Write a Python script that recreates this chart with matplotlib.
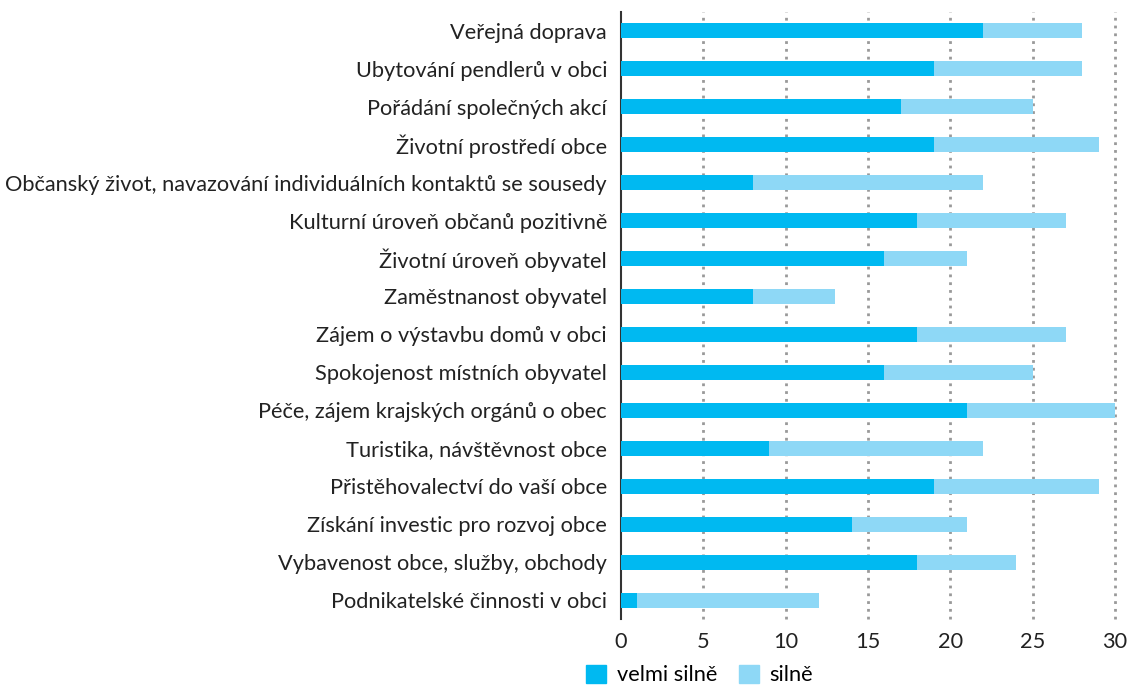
import matplotlib.pyplot as plt
from matplotlib.patches import Patch

plt.rcParams['font.family'] = ['Lato', 'DejaVu Sans']

kategorie = ['Veřejná doprava', 'Ubytování pendlerů v obci', 'Pořádání společných akcí',
             'Životní prostředí obce',
             'Občanský život, navazování individuálních kontaktů se sousedy',
             'Kulturní úroveň občanů pozitivně', 'Životní úroveň obyvatel',
             'Zaměstnanost obyvatel', 'Zájem o výstavbu domů v obci',
             'Spokojenost místních obyvatel', 'Péče, zájem krajských orgánů o obec',
             'Turistika, návštěvnost obce', 'Přistěhovalectví do vaší obce',
             'Získání investic pro rozvoj obce', 'Vybavenost obce, služby, obchody',
             'Podnikatelské činnosti v obci']
velmi_silne = [22, 19, 17, 19, 8, 18, 16, 8, 18, 16, 21, 9, 19, 14, 18, 1]
silne = [6, 9, 8, 10, 14, 9, 5, 5, 9, 9, 9, 13, 10, 7, 6, 11]
ticks = [0, 5, 10, 15, 20, 25, 30]

c1 = '#00B9F1'
c2 = '#8ED8F6'

fig = plt.figure(figsize=(11.38, 6.91), dpi=100)
ax = fig.add_axes([0.5457, 0.104, 0.4341, 0.879])

y = list(range(len(kategorie)))
ax.barh(y, velmi_silne, height=0.4, color=c1, zorder=3)
ax.barh(y, silne, left=velmi_silne, height=0.4, color=c2, zorder=3)

ax.set_xlim(0, 30)
ax.set_ylim(len(kategorie) - 0.5, -0.5)
ax.set_yticks(y)
ax.set_yticklabels(kategorie, fontsize=15.7, color='#222222')
ax.set_xticks(ticks)
ax.set_xticklabels([str(t) for t in ticks], fontsize=15.7, color='#222222')
ax.tick_params(axis='both', length=0)
ax.tick_params(axis='y', pad=10)
ax.tick_params(axis='x', pad=9)

# tečkované svislé mřížky
for t in ticks[1:]:
    ax.axvline(t, color='#999999', linestyle=(0, (1, 1.8)), linewidth=2,
               zorder=1, clip_on=False)

for s in ['top', 'right', 'bottom']:
    ax.spines[s].set_visible(False)
ax.spines['left'].set_color('#333333')
ax.spines['left'].set_linewidth(1.5)

handles = [Patch(color=c1, label='velmi silně'), Patch(color=c2, label='silně')]
fig.legend(handles=handles, loc='lower center', bbox_to_anchor=(0.615, -0.02), ncol=2,
           frameon=False, fontsize=15.7, handlelength=0.9, handleheight=0.9,
           handletextpad=0.5, columnspacing=1.0)

fig.savefig('out.png', dpi=100)
